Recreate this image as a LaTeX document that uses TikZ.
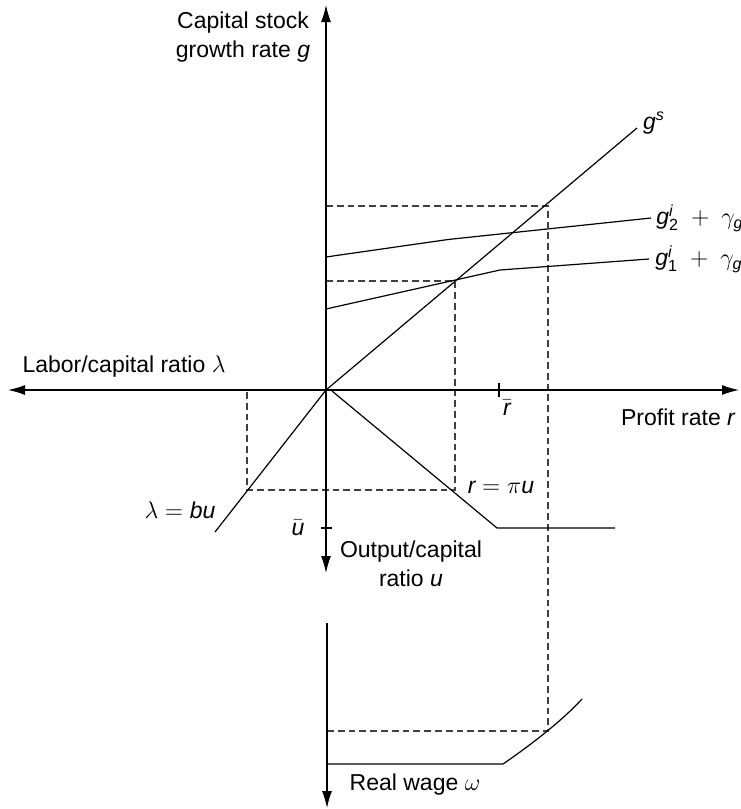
\documentclass[tikz,border=0pt]{standalone}
\usepackage{fontspec}
\setmainfont{Liberation Sans}
\usetikzlibrary{arrows.meta}
\newcommand{\mi}[1]{\mathit{#1}}
\begin{document}
\begin{tikzpicture}[x=0.5pt,y=-0.5pt,
  axis/.style={line width=0.65pt,-{Latex[length=8.5pt,width=5pt]}},
  curve/.style={line width=0.6pt},
  guide/.style={line width=0.6pt,dash pattern=on 3.4pt off 2pt,black!75},
  tick/.style={line width=0.6pt},
  lbl/.style={font=\fontsize{11.5}{14.5}\selectfont,inner sep=0pt}]
\useasboundingbox (0,0) rectangle (740,809);
% axes coordinates
\coordinate (O) at (326,390);
\coordinate (gtop) at (326,5);
\coordinate (ubot) at (326,573);
\coordinate (lleft) at (8,390);
\coordinate (rright) at (739,390);
\coordinate (wtop) at (327,623);
\coordinate (wbot) at (327,808);
% key points
\coordinate (E1) at (455,281);
\coordinate (E2) at (548,206);
\coordinate (U1) at (455,490);
\coordinate (L1) at (247,490);
\coordinate (L0) at (247,390);
\coordinate (G1) at (326,281);
\coordinate (G2) at (326,206);
\coordinate (W2) at (548,731);
\coordinate (WA) at (327,731);
% curves coordinates
\coordinate (gsend) at (637,128);
\coordinate (lbend) at (215,532);
\coordinate (g2a) at (326,257);
\coordinate (g2k) at (448,239.5);
\coordinate (g2e) at (651,218);
\coordinate (g1a) at (326,309);
\coordinate (g1k) at (500,270);
\coordinate (g1e) at (649,259);
\coordinate (ps) at (332,391);
\coordinate (pk) at (497,528);
\coordinate (pe) at (615,528);
\coordinate (w0) at (327,764);
\coordinate (wk) at (503,764);
\coordinate (we) at (582,699);
\coordinate (rt1) at (499,383);
\coordinate (rt2) at (499,397);
\coordinate (ut1) at (321,528);
\coordinate (ut2) at (332,528);

% guides
\draw[guide] (G2) -- (E2) -- (W2) -- (WA);
\draw[guide] (G1) -- (E1) -- (U1) -- (L1) -- (L0);

% axes
\draw[axis] (O) -- (gtop);
\draw[axis] (O) -- (ubot);
\draw[axis] (O) -- (lleft);
\draw[axis] (O) -- (rright);
\draw[axis] (wtop) -- (wbot);

% ticks
\draw[tick] (rt1) -- (rt2);
\draw[tick] (ut1) -- (ut2);

% curves
\draw[curve] (O) -- (gsend);
\draw[curve] (O) -- (lbend);
\draw[curve] (g2a) -- (g2k) -- (g2e);
\draw[curve] (g1a) -- (g1k) -- (g1e);
\draw[curve] (ps) -- (pk) -- (pe);
\draw[curve] (w0) -- (wk) .. controls (525,749) and (560,723) .. (we);

% labels
\node[lbl,align=center] (glab) at (243,37) {Capital stock\\growth rate $\mi{g}$};
\node[lbl] (llab) at (124,367) {Labor/capital ratio $\lambda$};
\node[lbl] (rlab) at (678,417) {Profit rate $\mi{r}$};
\node[lbl] (rbar) at (507,408) {$\bar{\mi{r}}$};
\node[lbl] (gs) at (654,123) {$\mi{g}^{\mi{s}}$};
\node[lbl,anchor=west] (g2lab) at (656,218) {$\mi{g}^{\mi{i}}_{\mathrm{2}}\;+\;\gamma_{\mi{g}}$};
\node[lbl,anchor=west] (g1lab) at (655,259) {$\mi{g}^{\mi{i}}_{\mathrm{1}}\;+\;\gamma_{\mi{g}}$};
\node[lbl] (rpu) at (501,487) {$\mi{r}=\pi\mi{u}$};
\node[lbl] (lbu) at (180,510) {$\lambda=\mi{bu}$};
\node[lbl] (ubar) at (298,528) {$\bar{\mi{u}}$};
\node[lbl,align=center] (ulab) at (411,564) {Output/capital\\ratio $\mi{u}$};
\node[lbl] (wlab) at (415,785) {Real wage $\omega$};
\end{tikzpicture}
\end{document}
